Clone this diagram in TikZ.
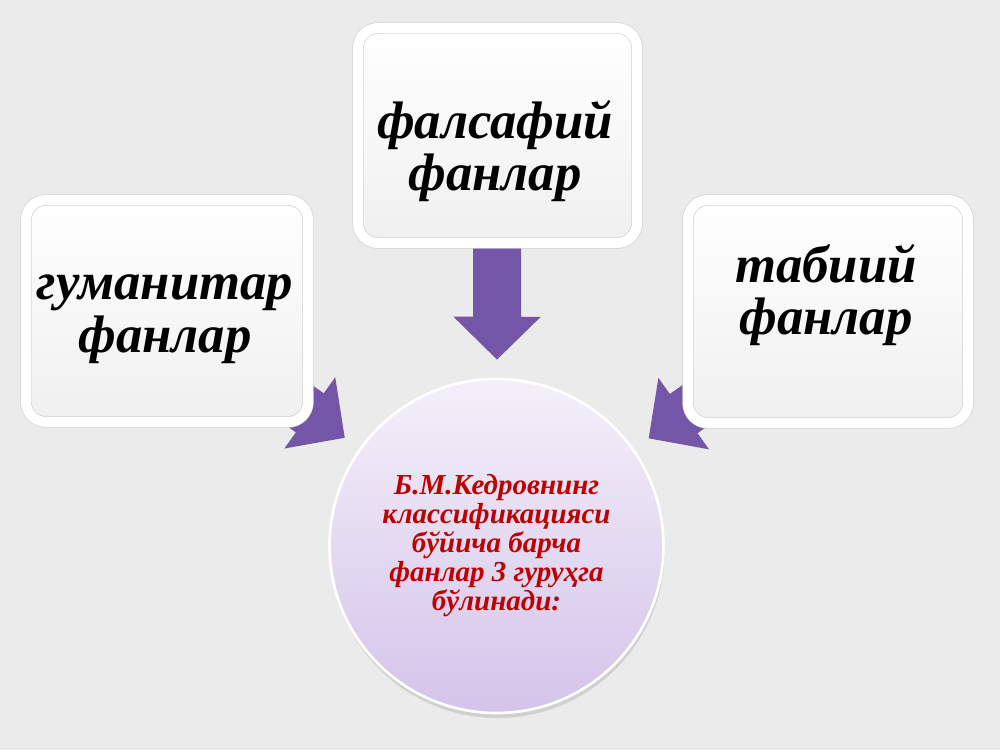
\documentclass[tikz,border=0pt]{standalone}
\usepackage{fontspec}
\setmainfont{Liberation Serif}
\usetikzlibrary{arrows.meta,shadows,backgrounds}
\definecolor{slidegray}{HTML}{EBEBEB}
\definecolor{arrowpurple}{HTML}{7456A8}
\definecolor{discred}{HTML}{C00000}
\definecolor{ballhigh}{HTML}{F4F0F9}
\definecolor{ballshade}{HTML}{D4C4EA}
\tikzset{
  subjbox/.style={rectangle, rounded corners=0.4cm, draw=gray!35, line width=0.4pt,
    double=white, double distance=0.2cm, top color=white, bottom color=gray!12,
    drop shadow={opacity=0.3, shadow xshift=0.03cm, shadow yshift=-0.06cm}},
  subjtext/.style={align=center, font=\fontsize{30}{30}\selectfont\bfseries\itshape},
  fatarrow/.style={draw=arrowpurple, line width=0.96cm,
    -{Triangle[width=1.7cm,length=0.86cm]}, shorten >=0.36cm}
}

\begin{document}
\begin{tikzpicture}
  \useasboundingbox (0,0) rectangle (20,15);
  % three groups of sciences
  \node[subjbox, minimum width=5.64cm, minimum height=4.44cm] (hum) at (3.34,8.78) {};
  \node[subjbox, minimum width=5.58cm, minimum height=4.3cm] (phil) at (9.95,12.29) {};
  \node[subjbox, minimum width=5.6cm, minimum height=4.46cm] (nat) at (16.56,8.77) {};
  \node[subjtext] (humtxt) at (3.3,8.62) {гуманитар\\фанлар};
  \node[subjtext] (philtxt) at (9.9,11.98) {фалсафий\\фанлар};
  \node[subjtext] (nattxt) at (16.52,9.1) {табиий\\фанлар};
  % central disc
  \node[circle, minimum size=6.68cm, draw=white, line width=1.5pt,
    top color=ballhigh, bottom color=ballshade,
    drop shadow={opacity=0.25, shadow xshift=0.02cm, shadow yshift=-0.1cm},
    align=center, text=discred,
    font=\fontsize{16.5}{16.5}\selectfont\bfseries\itshape] (core) at (9.93,4.08)
    {Б.М.Кедровнинг\\классификацияси\\бўйича барча\\фанлар 3 гуруҳга\\бўлинади:};
  \begin{pgfonlayer}{background}
    \fill[slidegray] (0,0) rectangle (20,15);
    \draw[fatarrow] (hum.center) -- (core);
    \draw[fatarrow] (phil.center) -- (core);
    \draw[fatarrow] (nat.center) -- (core);
  \end{pgfonlayer}
\end{tikzpicture}
\end{document}
